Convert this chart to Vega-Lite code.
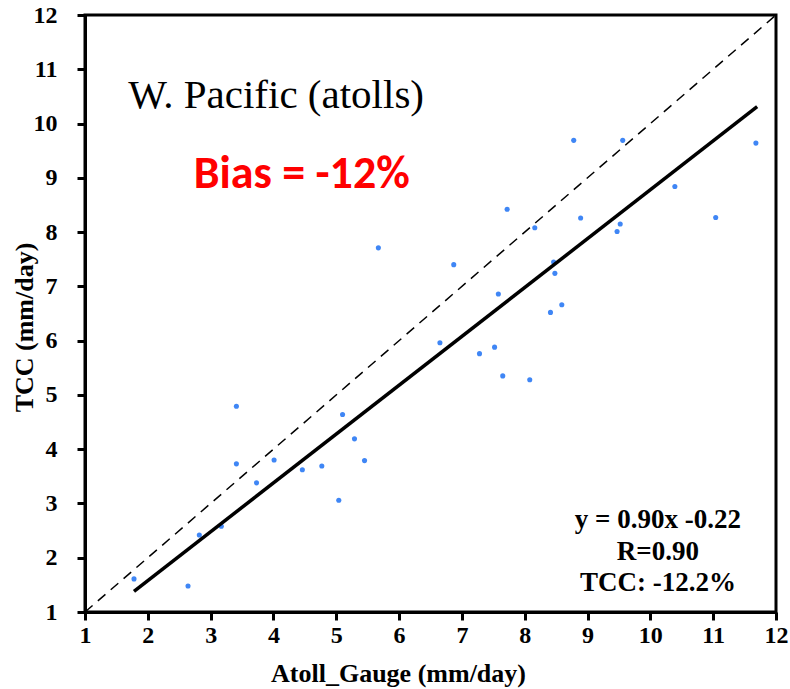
{
  "$schema": "https://vega.github.io/schema/vega-lite/v6.json",
  "width": 691,
  "height": 597,
  "autosize": {"type": "none"},
  "padding": {"left": 85, "top": 15, "right": 14, "bottom": 77},
  "background": "white",
  "config": {
    "view": {"stroke": "black", "strokeWidth": 3},
    "axis": {
      "grid": false,
      "domainColor": "black",
      "domainWidth": 3,
      "ticks": true,
      "tickColor": "black",
      "tickWidth": 3,
      "tickSize": 8,
      "format": "d",
      "labelFont": "'Liberation Serif', 'Times New Roman', serif",
      "labelFontWeight": "bold",
      "labelFontSize": 24,
      "labelColor": "black",
      "titleFont": "'Liberation Serif', 'Times New Roman', serif",
      "titleFontWeight": "bold",
      "titleFontSize": 26,
      "titleColor": "black"
    }
  },
  "layer": [
    {
      "data": {"values": [
        {"gauge": 3.41, "tcc": 4.79}, {"gauge": 5.10, "tcc": 4.64}, {"gauge": 5.29, "tcc": 4.19},
        {"gauge": 3.41, "tcc": 3.73}, {"gauge": 4.01, "tcc": 3.80}, {"gauge": 5.45, "tcc": 3.79},
        {"gauge": 4.46, "tcc": 3.62}, {"gauge": 4.77, "tcc": 3.69}, {"gauge": 3.73, "tcc": 3.38},
        {"gauge": 5.04, "tcc": 3.06}, {"gauge": 3.17, "tcc": 2.58}, {"gauge": 2.82, "tcc": 2.42},
        {"gauge": 1.78, "tcc": 1.61}, {"gauge": 2.64, "tcc": 1.48}, {"gauge": 8.78, "tcc": 9.69},
        {"gauge": 7.72, "tcc": 8.42}, {"gauge": 8.89, "tcc": 8.26}, {"gauge": 8.16, "tcc": 8.08},
        {"gauge": 5.67, "tcc": 7.71}, {"gauge": 6.87, "tcc": 7.40}, {"gauge": 8.46, "tcc": 7.45},
        {"gauge": 8.48, "tcc": 7.24}, {"gauge": 7.58, "tcc": 6.86}, {"gauge": 8.59, "tcc": 6.66},
        {"gauge": 8.41, "tcc": 6.52}, {"gauge": 6.65, "tcc": 5.96}, {"gauge": 7.52, "tcc": 5.88},
        {"gauge": 7.28, "tcc": 5.76}, {"gauge": 7.65, "tcc": 5.35}, {"gauge": 8.08, "tcc": 5.28},
        {"gauge": 9.56, "tcc": 9.69}, {"gauge": 11.68, "tcc": 9.64}, {"gauge": 10.39, "tcc": 8.84},
        {"gauge": 11.04, "tcc": 8.27}, {"gauge": 9.52, "tcc": 8.15}, {"gauge": 9.47, "tcc": 8.01}
      ]},
      "mark": {"type": "point", "filled": true, "size": 26, "color": "#3f86f5", "opacity": 1},
      "encoding": {
        "x": {"field": "gauge", "type": "quantitative",
          "scale": {"domain": [1, 12], "nice": false, "zero": false},
          "axis": {"values": [1,2,3,4,5,6,7,8,9,10,11,12], "format": "d", "labelPadding": 3, "labelFlush": false,
            "title": "Atoll_Gauge (mm/day)", "titleX": 313, "titleY": 69, "titleBaseline": "alphabetic", "titleAlign": "center", "titleAnchor": null}},
        "y": {"field": "tcc", "type": "quantitative",
          "scale": {"domain": [1, 12], "nice": false, "zero": false},
          "axis": {"values": [1,2,3,4,5,6,7,8,9,10,11,12], "format": "d", "labelPadding": 20, "labelFlush": false,
            "title": "TCC (mm/day)", "titleX": -53, "titleY": 312, "titleAngle": -90, "titleBaseline": "alphabetic", "titleAlign": "center", "titleAnchor": null}}
      }
    },
    {
      "data": {"values": [{"gauge": 1, "tcc": 1}, {"gauge": 12, "tcc": 12}]},
      "mark": {"type": "line", "color": "black", "strokeWidth": 1.5, "strokeDash": [10, 7]},
      "encoding": {
        "x": {"field": "gauge", "type": "quantitative"},
        "y": {"field": "tcc", "type": "quantitative"}
      }
    },
    {
      "data": {"values": [{"gauge": 1.78, "tcc": 1.38}, {"gauge": 11.7, "tcc": 10.31}]},
      "mark": {"type": "line", "color": "black", "strokeWidth": 3.5},
      "encoding": {
        "x": {"field": "gauge", "type": "quantitative"},
        "y": {"field": "tcc", "type": "quantitative"}
      }
    },
    {
      "data": {"values": [{"gauge": 1.69, "tcc": 10.29, "label": "W. Pacific (atolls)"}]},
      "mark": {"type": "text", "font": "'Liberation Serif', 'Times New Roman', serif", "fontWeight": "normal", "fontSize": 41, "color": "black", "align": "left", "baseline": "alphabetic"},
      "encoding": {
        "x": {"field": "gauge", "type": "quantitative"},
        "y": {"field": "tcc", "type": "quantitative"},
        "text": {"field": "label"}
      }
    },
    {
      "data": {"values": [{"gauge": 2.73, "tcc": 8.82, "label": "Bias = -12%"}]},
      "mark": {"type": "text", "font": "Carlito, Lato, sans-serif", "fontWeight": "bold", "fontSize": 46, "color": "#ff0000", "align": "left", "baseline": "alphabetic"},
      "encoding": {
        "x": {"field": "gauge", "type": "quantitative"},
        "y": {"field": "tcc", "type": "quantitative"},
        "text": {"field": "label"}
      }
    },
    {
      "data": {"values": [
        {"gauge": 10.12, "tcc": 2.55, "label": "y = 0.90x -0.22"},
        {"gauge": 10.12, "tcc": 1.95, "label": "R=0.90"},
        {"gauge": 10.12, "tcc": 1.38, "label": "TCC: -12.2%"}
      ]},
      "mark": {"type": "text", "font": "'Liberation Serif', 'Times New Roman', serif", "fontWeight": "bold", "fontSize": 27, "color": "black", "align": "center", "baseline": "alphabetic"},
      "encoding": {
        "x": {"field": "gauge", "type": "quantitative"},
        "y": {"field": "tcc", "type": "quantitative"},
        "text": {"field": "label"}
      }
    }
  ]
}
